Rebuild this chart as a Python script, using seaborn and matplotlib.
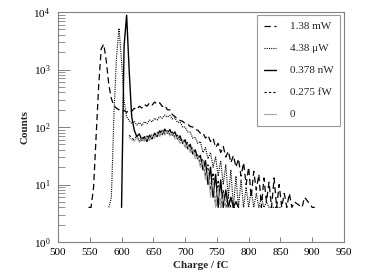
import numpy as np
import pandas as pd
import matplotlib
matplotlib.use("Agg")
import matplotlib.pyplot as plt
import seaborn as sns

nan = np.nan

labels = ["1.38 mW", "4.38 μW", "0.378 nW", "0.275 fW", "0"]

# counts per 4 fC bin; each list starts at the given charge (fC)
start_1mW = 548
counts_1mW = [4, 4, 9, 70, 520, 2300, 2750, 1400, 540, 310, 235, 212, 200, 186,
              194, 180, 198, 188, 212, 200, 230, 214, 246, 230, 262, 240, 272,
              248, 264, 228, 240, 200, 198, 164, 152, 138, 130, 126, 114, 112,
              102, 100, 90, 88, 78, 80, 64, 72, 56, 64, 44, 52, 36, 46, 30, 38,
              24, 32, 20, 28, 14, 24, 10, 20, 6, 17, 8, 15, 4, 13, 5, 11, 4,
              13, 4, 10, 4, 7, 4, 7, 4, 5, nan, nan, 4, 6, nan, nan, 4, 4]

start_4uW = 580
counts_4uW = [4, 6, 160, 1600, 5200, 1400, 290, 150, 130, 116, 126, 108, 120,
              106, 124, 114, 132, 122, 142, 132, 152, 142, 162, 148, 160, 138,
              144, 120, 122, 100, 100, 82, 82, 64, 66, 52, 56, 36, 44, 28, 36,
              20, 30, 14, 26, 10, 22, 6, 18, 4, 14, 4, 12, 4, 9, 4, 8, 4, 7,
              4, 6, 4, 5, 4, nan, 4, 4, nan, 4]

start_nW = 600
counts_nW = [4, 2600, 8800, 950, 150, 88, 68, 76, 58, 68, 56, 72, 62, 78, 68,
             86, 74, 92, 78, 90, 72, 82, 62, 70, 52, 60, 42, 50, 34, 40, 28, 32,
             18, 26, 10, 20, 6, 15, 4, 12, 4, 8, 4, 6, 4, 5, 4]

start_fW = 612
counts_fW = [72, 64, 60, 70, 56, 66, 58, 70, 60, 76, 66, 82, 70, 88, 76, 86, 74,
             82, 66, 72, 56, 62, 46, 54, 38, 44, 30, 34, 22, 28, 14, 22, 8, 16,
             4, 12, 4, 8, 4, 6, 4, nan, 4]

start_0 = 612
counts_0 = [66, 60, 56, 66, 54, 62, 56, 66, 58, 72, 64, 78, 68, 82, 72, 84, 70,
            78, 62, 68, 52, 58, 44, 50, 36, 42, 28, 31, 20, 26, 12, 18, 6, 12,
            4, 9, 4, 6, 4, nan, 4]

series = [(start_1mW, counts_1mW), (start_4uW, counts_4uW), (start_nW, counts_nW),
          (start_fW, counts_fW), (start_0, counts_0)]

styles = [dict(color="black", lw=0.9, ls=(0, (5, 3))),
          dict(color="black", lw=0.8, ls=(0, (1, 1))),
          dict(color="black", lw=1.0, ls="-"),
          dict(color="black", lw=0.8, ls=(0, (2, 2))),
          dict(color="#a8a8a8", lw=0.8, ls="-")]

sns.set_style("ticks")
plt.rcParams["font.family"] = ["Liberation Serif", "DejaVu Serif"]
plt.rcParams["mathtext.fontset"] = "custom"
plt.rcParams["mathtext.rm"] = "Liberation Serif"
plt.rcParams["mathtext.it"] = "Liberation Serif:italic"
plt.rcParams["mathtext.bf"] = "Liberation Serif:bold"

fig = plt.figure(figsize=(3.92, 2.78), dpi=100)
ax = fig.add_axes([58 / 392, 1 - 242 / 278, 286 / 392, 230 / 278])

for (start, vals), lab, st in zip(series, labels, styles):
    xs = [start + 4 * i for i in range(len(vals))]
    df = pd.DataFrame({"charge": xs, "counts": vals})
    sns.lineplot(data=df, x="charge", y="counts", ax=ax, estimator=None,
                 sort=False, label=lab, color=st["color"], linewidth=st["lw"],
                 linestyle=st["ls"])

ax.set_yscale("log")
ax.set_xlim(500, 950)
ax.set_ylim(1, 1e4)
ax.set_xticks(range(500, 951, 50))

edge = "#808080"
for s in ax.spines.values():
    s.set_color(edge)
    s.set_linewidth(0.8)
ax.tick_params(axis="both", which="both", direction="in", colors=edge,
               labelcolor="black", labelsize=8, top=False, right=False)
ax.tick_params(axis="y", which="major", length=8.5, width=0.7, pad=5.5)
ax.tick_params(axis="y", which="minor", length=5, width=0.6)
ax.tick_params(axis="x", which="major", length=3.5, width=0.7, pad=4)

ax.set_xlabel("Charge / fC", fontsize=8, fontweight="bold", labelpad=3)
ax.set_ylabel("Counts", fontsize=8, fontweight="bold", labelpad=3)

leg = ax.legend(loc="upper right", bbox_to_anchor=(0.986, 0.987),
                borderaxespad=0, fontsize=8, frameon=True, fancybox=False,
                handlelength=1.1, handletextpad=1.2, labelspacing=1.1,
                borderpad=0.6)
leg.get_frame().set_edgecolor(edge)
leg.get_frame().set_linewidth(0.8)

fig.savefig("out.png", dpi=100)
